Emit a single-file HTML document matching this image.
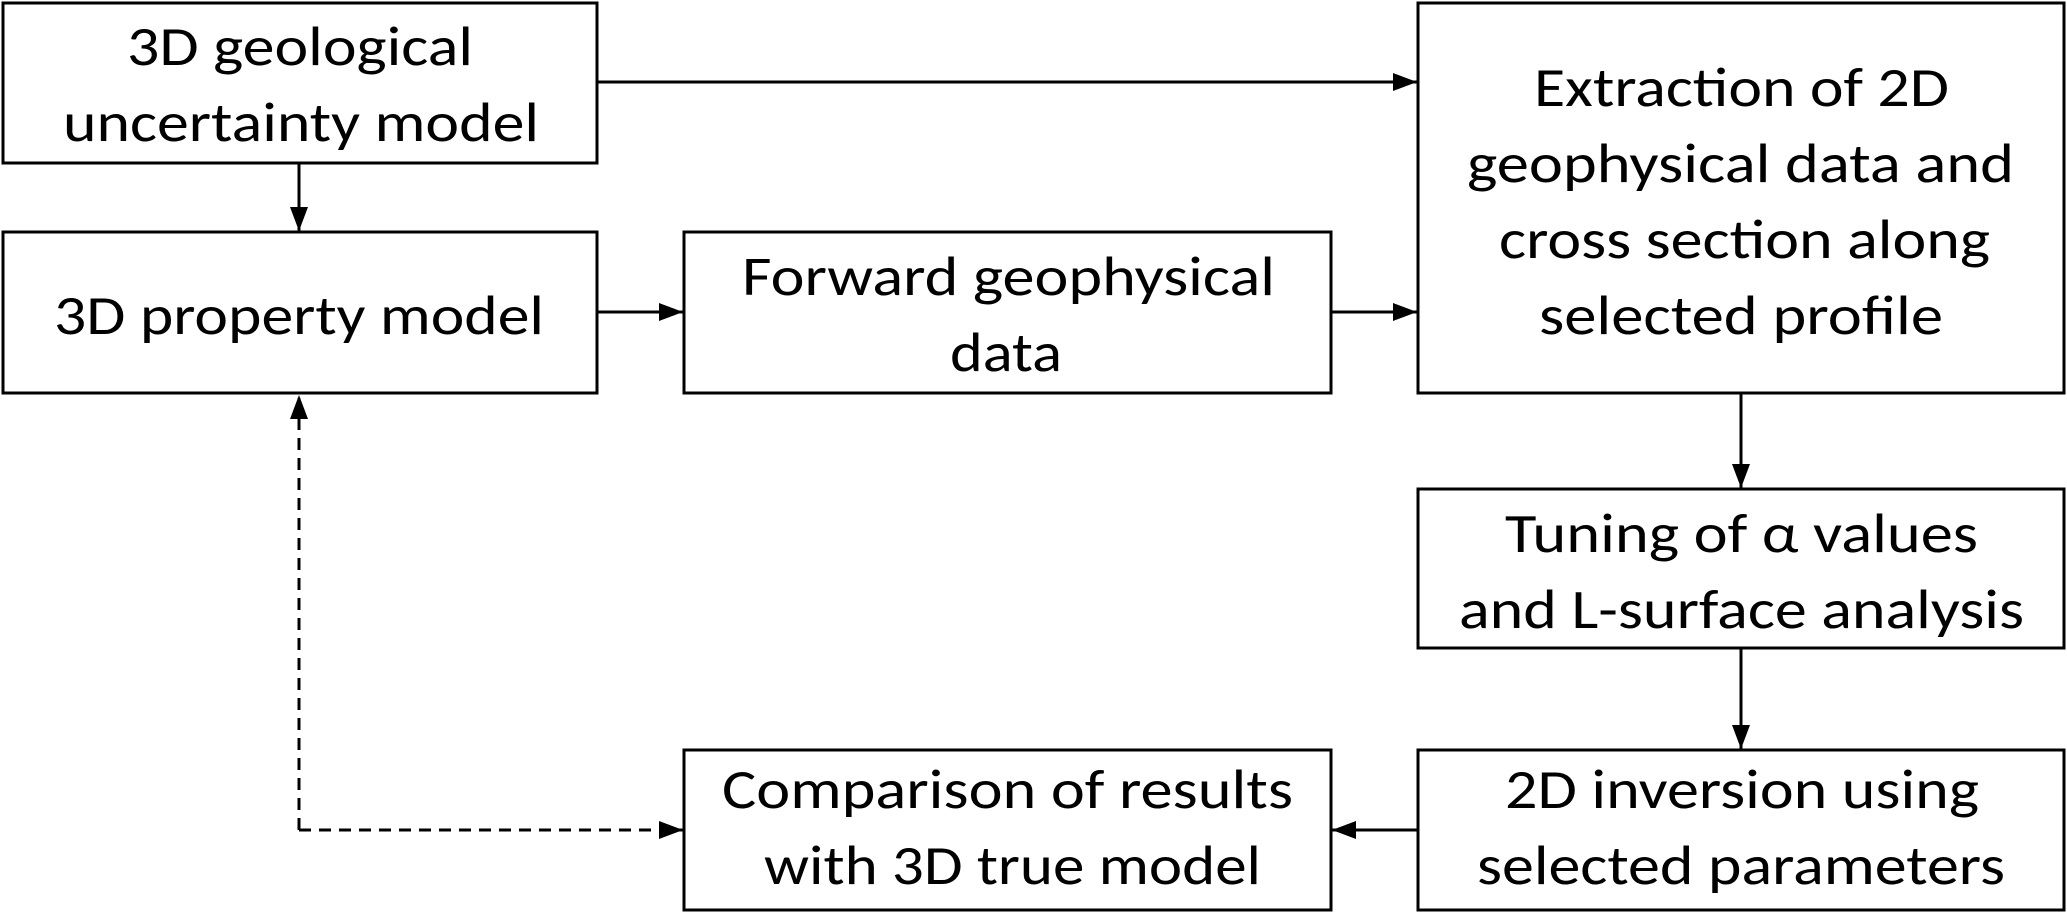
<!DOCTYPE html>
<html><head><meta charset="utf-8"><style>html,body{margin:0;padding:0;background:#fff}svg{display:block}</style></head>
<body>
<svg width="2067" height="913" viewBox="0 0 2067 913" xmlns="http://www.w3.org/2000/svg">
<defs>
<marker id="ah" markerWidth="24" markerHeight="18" refX="24" refY="9" orient="auto" markerUnits="userSpaceOnUse">
<path d="M0,0 L24,9 L0,18 z" fill="#000"/>
</marker>
</defs>
<g fill="#fff" stroke="#000" stroke-width="3">
<rect x="3" y="3" width="594" height="160"/>
<rect x="3" y="232" width="594" height="161"/>
<rect x="684" y="232" width="647" height="161"/>
<rect x="1418" y="3" width="646" height="390"/>
<rect x="1418" y="489" width="646" height="159"/>
<rect x="1418" y="750" width="646" height="160"/>
<rect x="684" y="750" width="647" height="160"/>
</g>
<g stroke="#000" stroke-width="3" fill="none">
<line x1="597" y1="82" x2="1417" y2="82" marker-end="url(#ah)"/>
<line x1="299" y1="163" x2="299" y2="231" marker-end="url(#ah)"/>
<line x1="597" y1="312" x2="683" y2="312" marker-end="url(#ah)"/>
<line x1="1331" y1="312" x2="1417" y2="312" marker-end="url(#ah)"/>
<line x1="1741" y1="393" x2="1741" y2="488" marker-end="url(#ah)"/>
<line x1="1741" y1="648" x2="1741" y2="749" marker-end="url(#ah)"/>
<line x1="1418" y1="830" x2="1332" y2="830" marker-end="url(#ah)"/>
<path d="M299,830 L299,395" stroke-dasharray="12,8" marker-end="url(#ah)"/>
<path d="M299,830 L683,830" stroke-dasharray="12,8" marker-end="url(#ah)"/>
</g>
<g font-family="Carlito, 'Liberation Sans', sans-serif" font-size="56" fill="#000">
<text x="127" y="65" textLength="346" lengthAdjust="spacingAndGlyphs">3D geological</text>
<text x="63" y="141" textLength="476" lengthAdjust="spacingAndGlyphs">uncertainty model</text>
<text x="54" y="334" textLength="490" lengthAdjust="spacingAndGlyphs">3D property model</text>
<text x="742" y="295" textLength="533" lengthAdjust="spacingAndGlyphs">Forward geophysical</text>
<text x="950" y="371" textLength="112" lengthAdjust="spacingAndGlyphs">data</text>
<text x="1534" y="106" textLength="415" lengthAdjust="spacingAndGlyphs">Extraction of 2D</text>
<text x="1467" y="182" textLength="547" lengthAdjust="spacingAndGlyphs">geophysical data and</text>
<text x="1499" y="258" textLength="491" lengthAdjust="spacingAndGlyphs">cross section along</text>
<text x="1539" y="334" textLength="404" lengthAdjust="spacingAndGlyphs">selected profile</text>
<text x="1505" y="552" textLength="473" lengthAdjust="spacingAndGlyphs">Tuning of α values</text>
<text x="1459" y="628" textLength="565" lengthAdjust="spacingAndGlyphs">and L-surface analysis</text>
<text x="1505" y="808" textLength="474" lengthAdjust="spacingAndGlyphs">2D inversion using</text>
<text x="1477" y="884" textLength="528" lengthAdjust="spacingAndGlyphs">selected parameters</text>
<text x="722" y="808" textLength="571" lengthAdjust="spacingAndGlyphs">Comparison of results</text>
<text x="764" y="884" textLength="497" lengthAdjust="spacingAndGlyphs">with 3D true model</text>
</g>
</svg>
</body></html>
